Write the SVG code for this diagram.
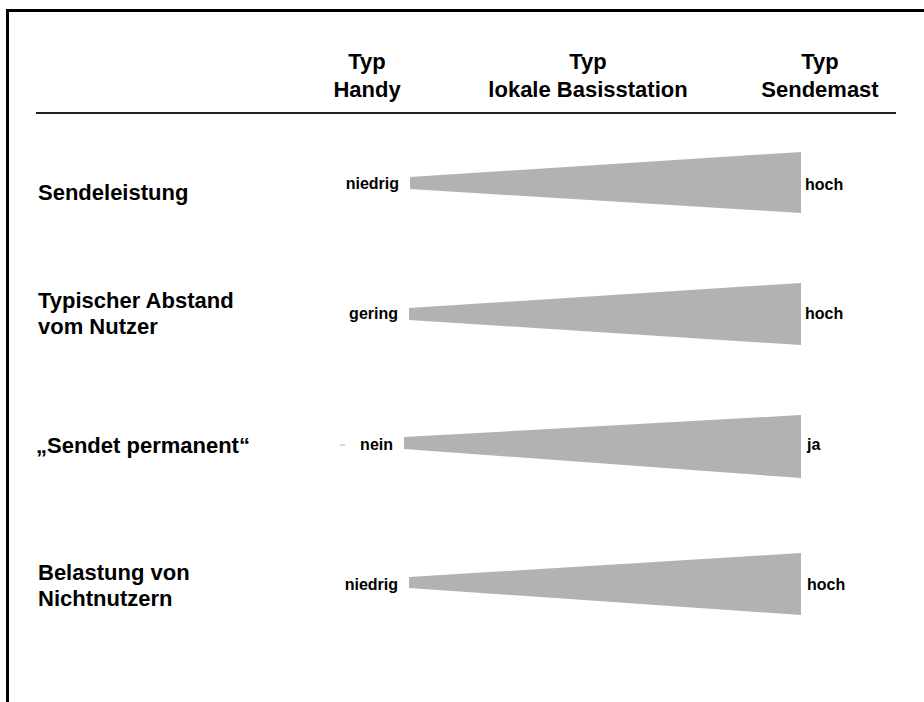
<svg xmlns="http://www.w3.org/2000/svg" width="924" height="702" viewBox="0 0 924 702">
<style>
.big{font-family:"Liberation Sans",Arial,sans-serif;font-weight:bold;font-size:22px;fill:#000}
.hd{font-family:"Liberation Sans",Arial,sans-serif;font-weight:bold;font-size:22px;fill:#000;text-anchor:middle}
.sm{font-family:"Liberation Sans",Arial,sans-serif;font-weight:bold;font-size:16px;fill:#000}
.wedge{fill:#b2b2b2}
</style>
<rect width="924" height="702" fill="#fff"/>
<g id="frame">
<path d="M7.5 702 V10.5 H924" fill="none" stroke="#000" stroke-width="3"/>
<line x1="36" y1="113" x2="896" y2="113" stroke="#222" stroke-width="2"/>
</g>
<g id="header">
<text class="hd" x="367" y="69">Typ</text>
<text class="hd" x="367" y="97">Handy</text>
<text class="hd" x="588" y="69">Typ</text>
<text class="hd" x="588" y="97">lokale Basisstation</text>
<text class="hd" x="820" y="69">Typ</text>
<text class="hd" x="820" y="97">Sendemast</text>
</g>
<g id="row1">
<text class="big" x="38" y="200">Sendeleistung</text>
<polygon class="wedge" points="410,177 801,152 801,213 410,189"/>
<text class="sm" x="399" y="189" text-anchor="end">niedrig</text>
<text class="sm" x="805" y="190">hoch</text>
</g>
<g id="row2">
<text class="big" x="38" y="308">Typischer Abstand</text>
<text class="big" x="38" y="334">vom Nutzer</text>
<polygon class="wedge" points="409,308 801,283 801,345 409,320"/>
<text class="sm" x="398" y="319" text-anchor="end">gering</text>
<text class="sm" x="805" y="319">hoch</text>
</g>
<g id="row3">
<text class="big" x="36" y="453">„Sendet permanent“</text>
<line x1="340" y1="445" x2="345" y2="445" stroke="#b2b2b2" stroke-width="1"/>
<polygon class="wedge" points="404,437 801,415 801,478 404,449"/>
<text class="sm" x="393" y="450" text-anchor="end">nein</text>
<text class="sm" x="807" y="450">ja</text>
</g>
<g id="row4">
<text class="big" x="38" y="580">Belastung von</text>
<text class="big" x="38" y="606">Nichtnutzern</text>
<polygon class="wedge" points="409,577 801,553 801,615 409,588"/>
<text class="sm" x="398" y="590" text-anchor="end">niedrig</text>
<text class="sm" x="807" y="590">hoch</text>
</g>
</svg>
